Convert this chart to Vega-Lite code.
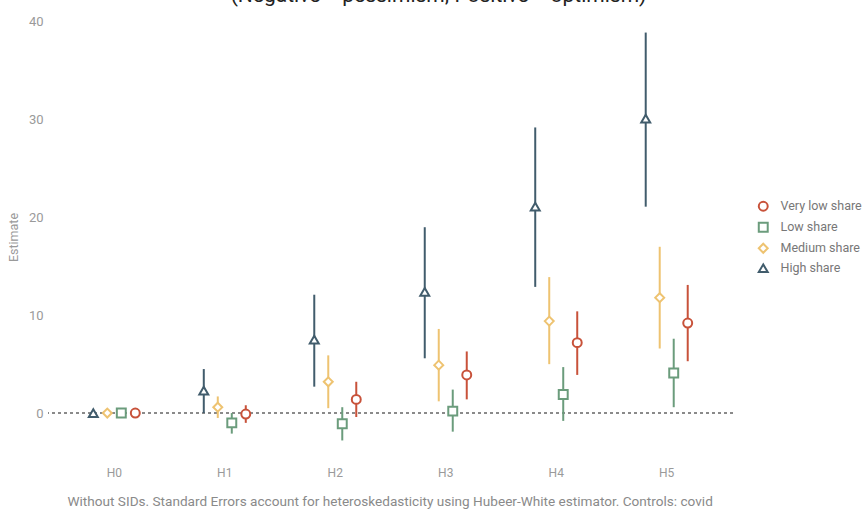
{
  "$schema": "https://vega.github.io/schema/vega-lite/v6.json",
  "width": 685,
  "height": 448,
  "autosize": {"type": "none"},
  "padding": {"left": 48, "top": 13, "right": 133, "bottom": 48},
  "background": "white",
  "config": {
    "font": "Roboto",
    "view": {"stroke": null},
    "axis": {"labelColor": "#9a9a9a", "titleColor": "#9a9a9a", "labelFont": "Roboto", "titleFont": "Roboto", "titleFontWeight": "normal", "domain": false, "ticks": false},
    "legend": {"orient": "none", "legendX": 709, "legendY": 187, "labelFontSize": 12.5, "labelColor": "#777777", "labelFont": "Roboto", "symbolSize": 80, "symbolStrokeWidth": 2, "symbolFillColor": "white", "rowPadding": 3, "labelOffset": 11}
  },
  "title": {
    "text": "(Negative = pessimism; Positive = optimism)",
    "fontSize": 21,
    "fontWeight": "normal",
    "color": "#222222",
    "anchor": "middle",
    "dx": 48,
    "offset": 7
  },
  "data": {
    "values": [
      {"h": "H0", "group": "High share", "est": 0, "lo": 0, "hi": 0},
      {"h": "H0", "group": "Medium share", "est": 0, "lo": 0, "hi": 0},
      {"h": "H0", "group": "Low share", "est": 0, "lo": 0, "hi": 0},
      {"h": "H0", "group": "Very low share", "est": 0, "lo": 0, "hi": 0},
      {"h": "H1", "group": "High share", "est": 2.3, "lo": 0, "hi": 4.5},
      {"h": "H1", "group": "Medium share", "est": 0.6, "lo": -0.5, "hi": 1.7},
      {"h": "H1", "group": "Low share", "est": -1.0, "lo": -2.1, "hi": 0},
      {"h": "H1", "group": "Very low share", "est": -0.1, "lo": -1.0, "hi": 0.8},
      {"h": "H2", "group": "High share", "est": 7.5, "lo": 2.7, "hi": 12.1},
      {"h": "H2", "group": "Medium share", "est": 3.2, "lo": 0.5, "hi": 5.9},
      {"h": "H2", "group": "Low share", "est": -1.1, "lo": -2.8, "hi": 0.6},
      {"h": "H2", "group": "Very low share", "est": 1.4, "lo": -0.4, "hi": 3.2},
      {"h": "H3", "group": "High share", "est": 12.4, "lo": 5.6, "hi": 19.0},
      {"h": "H3", "group": "Medium share", "est": 4.9, "lo": 1.2, "hi": 8.6},
      {"h": "H3", "group": "Low share", "est": 0.2, "lo": -1.9, "hi": 2.4},
      {"h": "H3", "group": "Very low share", "est": 3.9, "lo": 1.4, "hi": 6.3},
      {"h": "H4", "group": "High share", "est": 21.1, "lo": 12.9, "hi": 29.2},
      {"h": "H4", "group": "Medium share", "est": 9.4, "lo": 5.0, "hi": 13.9},
      {"h": "H4", "group": "Low share", "est": 1.9, "lo": -0.8, "hi": 4.7},
      {"h": "H4", "group": "Very low share", "est": 7.2, "lo": 3.9, "hi": 10.4},
      {"h": "H5", "group": "High share", "est": 30.1, "lo": 21.1, "hi": 38.9},
      {"h": "H5", "group": "Medium share", "est": 11.8, "lo": 6.6, "hi": 17.0},
      {"h": "H5", "group": "Low share", "est": 4.1, "lo": 0.6, "hi": 7.6},
      {"h": "H5", "group": "Very low share", "est": 9.2, "lo": 5.3, "hi": 13.1}
    ]
  },
  "layer": [
    {
      "mark": {"type": "rule", "strokeDash": [3, 3], "color": "#8a8a8a", "strokeWidth": 1},
      "encoding": {
        "y": {"datum": 0, "type": "quantitative", "scale": {"domain": [-4.9, 40.9], "nice": false, "zero": false}}
      }
    },
    {
      "mark": {"type": "rule", "strokeWidth": 2},
      "encoding": {
        "x": {"field": "h", "type": "nominal", "scale": {"paddingInner": 0, "paddingOuter": 0.1},
              "axis": {"labelAngle": 0, "labelFontSize": 12, "labelPadding": 6, "grid": false,
                       "title": "Without SIDs. Standard Errors account for heteroskedasticity using Hubeer-White estimator. Controls: covid",
                       "titleFontSize": 13.6, "titleAnchor": "start", "titleAlign": "left", "titleX": 19, "titleY": 44, "titleBaseline": "alphabetic", "titleColor": "#8a8a8a"}},
        "xOffset": {"field": "group", "type": "nominal", "sort": ["High share", "Medium share", "Low share", "Very low share"], "scale": {"paddingInner": 0, "paddingOuter": 0, "range": [27.25, 83.25]}},
        "y": {"field": "lo", "type": "quantitative", "scale": {"domain": [-4.9, 40.9], "nice": false, "zero": false},
              "axis": {"values": [0, 10, 20, 30, 40], "labelFontSize": 13, "labelPadding": 5, "gridColor": "#ebebeb", "gridWidth": 1, "title": "Estimate", "titleFontSize": 12.5, "titlePadding": 8}},
        "y2": {"field": "hi"},
        "color": {"field": "group", "type": "nominal", "title": null,
                  "scale": {"domain": ["Very low share", "Low share", "Medium share", "High share"], "range": ["#C8523A", "#6B9C7C", "#EEC371", "#415C6C"]}}
      }
    },
    {
      "mark": {"type": "point", "filled": false, "fill": "white", "fillOpacity": 1, "strokeWidth": 2, "size": 80, "opacity": 1},
      "encoding": {
        "x": {"field": "h", "type": "nominal"},
        "xOffset": {"field": "group", "type": "nominal", "sort": ["High share", "Medium share", "Low share", "Very low share"]},
        "y": {"field": "est", "type": "quantitative"},
        "color": {"field": "group", "type": "nominal", "title": null},
        "shape": {"field": "group", "type": "nominal", "title": null, "scale": {"domain": ["Very low share", "Low share", "Medium share", "High share"], "range": ["circle", "square", "diamond", "triangle-up"]}}
      }
    }
  ]
}
